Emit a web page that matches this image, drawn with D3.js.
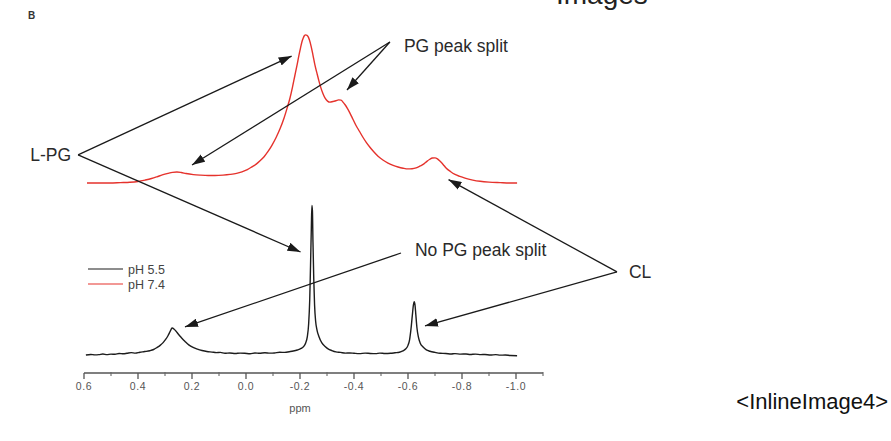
<!DOCTYPE html>
<html>
<head>
<meta charset="utf-8">
<script src="https://cdn.jsdelivr.net/npm/d3@7"></script>
<style>
  html, body { margin: 0; padding: 0; background: #fff; }
  svg { display: block; font-family: "Liberation Sans", Arial, sans-serif; }
</style>
</head>
<body>
<svg id="chart" width="891" height="441"></svg>
<script>
// 31P NMR spectra: chemical shift (ppm) and stacked intensity (arb. units)
const ph55Ppm = [0.593,0.575,0.560,0.545,0.530,0.515,0.500,0.485,0.470,0.455,0.441,0.425,0.410,0.393,0.375,0.356,0.342,0.330,0.318,0.307,0.297,0.289,0.280,0.274,0.266,0.259,0.251,0.244,0.235,0.226,0.212,0.196,0.180,0.163,0.145,0.126,0.110,0.095,0.078,0.060,0.040,0.022,0.005,-0.015,-0.033,-0.050,-0.070,-0.089,-0.105,-0.125,-0.144,-0.160,-0.175,-0.190,-0.204,-0.214,-0.221,-0.227,-0.232,-0.236,-0.239,-0.242,-0.244,-0.246,-0.248,-0.251,-0.254,-0.258,-0.263,-0.270,-0.281,-0.293,-0.304,-0.318,-0.333,-0.350,-0.368,-0.385,-0.400,-0.420,-0.441,-0.460,-0.480,-0.496,-0.515,-0.535,-0.552,-0.568,-0.581,-0.592,-0.600,-0.606,-0.611,-0.616,-0.620,-0.623,-0.626,-0.629,-0.633,-0.638,-0.645,-0.656,-0.668,-0.681,-0.700,-0.719,-0.740,-0.760,-0.774,-0.795,-0.815,-0.830,-0.850,-0.870,-0.885,-0.905,-0.925,-0.941,-0.960,-0.980,-1.004];
const ph55Int = [0,0.3,0.1,0.2,0.6,0.2,0.5,0.4,0.9,0.7,1.0,1.4,1.1,1.6,2.0,2.5,3.2,4.3,5.6,7.2,9.2,11.2,14.0,15.7,15.0,13.8,12.2,10.9,9.3,7.9,5.9,4.4,3.4,2.6,2.0,1.7,1.4,1.5,1.0,1.2,0.9,1.1,1.0,0.7,1.2,1.0,1.3,1.1,1.2,1.6,1.5,1.9,2.3,2.9,3.8,5.0,7.0,10.5,18.0,32.0,52.0,74.0,87.0,84.0,66.0,44.0,29.0,19.5,14.5,10.8,7.0,5.0,3.6,2.6,1.8,1.5,1.1,1.2,1.0,0.8,1.1,0.9,0.8,1.1,0.9,1.0,1.3,1.6,2.4,3.6,5.6,9.0,15.0,23.0,29.0,31.0,29.0,23.5,16.0,10.8,7.0,4.6,3.0,2.2,1.5,1.0,0.9,0.6,0.8,0.5,0.6,0.3,0.5,0.2,0.3,0.0,0.2,-0.1,0.0,-0.3,-0.4];

const ph74Ppm = [0.589,0.540,0.504,0.465,0.430,0.400,0.374,0.350,0.330,0.310,0.289,0.272,0.256,0.240,0.222,0.195,0.170,0.140,0.115,0.085,0.059,0.035,0.015,-0.005,-0.022,-0.038,-0.052,-0.067,-0.081,-0.096,-0.111,-0.126,-0.141,-0.152,-0.163,-0.172,-0.181,-0.189,-0.196,-0.202,-0.207,-0.212,-0.216,-0.221,-0.226,-0.231,-0.235,-0.241,-0.248,-0.255,-0.263,-0.270,-0.278,-0.286,-0.293,-0.302,-0.311,-0.322,-0.333,-0.343,-0.352,-0.360,-0.367,-0.376,-0.385,-0.396,-0.407,-0.420,-0.433,-0.446,-0.459,-0.474,-0.489,-0.507,-0.526,-0.545,-0.563,-0.582,-0.600,-0.615,-0.630,-0.645,-0.659,-0.670,-0.681,-0.690,-0.700,-0.709,-0.719,-0.730,-0.741,-0.757,-0.774,-0.792,-0.811,-0.840,-0.867,-0.900,-0.941,-0.975,-1.004];
const ph74Int = [100,100,100,100.2,100.4,100.9,101.7,102.6,103.6,104.7,105.6,106.2,106.4,106.1,105.5,104.9,104.6,104.4,104.4,104.6,105.0,105.6,106.5,107.8,109.4,111.0,112.9,115.3,118.2,121.9,126.3,131.5,137.8,143.4,149.4,155.6,162.5,168.5,174.2,178.6,182.0,184.3,185.6,186.1,185.9,184.8,183.1,179.6,174.4,168.8,163.7,159.4,155.0,151.6,149.3,147.6,147.0,147.4,147.8,148.3,148.2,146.9,145.5,143.2,140.6,137.1,133.6,130.1,126.6,123.5,120.8,118.0,115.6,113.4,111.6,110.2,109.3,108.6,108.2,108.3,108.8,109.9,111.1,112.6,113.8,114.5,114.6,114.0,112.6,110.8,108.7,106.7,105.0,103.8,102.8,101.7,101.0,100.5,100.2,100.0,100.0];

const seriesNames = ["pH 5.5", "pH 7.4"];
const seriesColors = ["#1c1c1c", "#e5322c"];

const majorTicks = [0.6,0.4,0.2,0.0,-0.2,-0.4,-0.6,-0.8,-1.0];
const minorTicks = [0.5,0.3,0.1,-0.1,-0.3,-0.5,-0.7,-0.9,-1.1];
const tickLabels = ["0.6","0.4","0.2","0.0","-0.2","-0.4","-0.6","-0.8","-1.0"];

// Annotations: label anchor and arrow tips, in (ppm, intensity) units
const annLabels = ["L-PG", "PG peak split", "No PG peak split", "CL"];
const annVertex = [[0.622,116.3],[-0.533,182.0],[-0.574,59.3],[-1.374,48.3]];
const annTips = [
  [[-0.169,173.8],[-0.202,59.9]],
  [[0.200,110.5],[-0.374,154.1]],
  [[0.226,16.3]],
  [[-0.750,102.0],[-0.663,16.9]]
];

const svg = d3.select("#chart");

const x = d3.scaleLinear().domain([0.6, -1.1]).range([84, 543]);
const y = d3.scaleLinear().domain([0, 200]).range([355, 11]);
const axisY = 373;

// panel letter
svg.append("text").attr("x", 28).attr("y", 19)
  .attr("font-size", 10).attr("font-weight", "bold").attr("fill", "#333").text("B");

// caption of the page above, cut by the top edge
svg.append("text").attr("x", 556).attr("y", 4)
  .attr("font-size", 28).attr("fill", "#222").text("Images");

// spectra
const line = d3.line().x(d => x(d[0])).y(d => y(d[1])).curve(d3.curveMonotoneX);
const spectra = [d3.zip(ph55Ppm, ph55Int), d3.zip(ph74Ppm, ph74Int)];
spectra.forEach((s, i) => {
  svg.append("path").datum(s)
    .attr("d", line)
    .attr("fill", "none")
    .attr("stroke", seriesColors[i])
    .attr("stroke-width", 1.4)
    .attr("stroke-linejoin", "round");
});

// x axis
const axisG = svg.append("g").attr("transform", `translate(0,${axisY})`);
axisG.append("line").attr("x1", x(0.6)).attr("x2", x(-1.1))
  .attr("stroke", "#555").attr("stroke-width", 1.5);
axisG.selectAll(".major").data(majorTicks).join("line")
  .attr("x1", d => x(d)).attr("x2", d => x(d))
  .attr("y1", 0).attr("y2", 6).attr("stroke", "#555").attr("stroke-width", 1.3);
axisG.selectAll(".minor").data(minorTicks).join("line")
  .attr("x1", d => x(d)).attr("x2", d => x(d))
  .attr("y1", -1).attr("y2", 3).attr("stroke", "#666").attr("stroke-width", 1.1);
axisG.selectAll(".lab").data(majorTicks).join("text")
  .attr("x", d => x(d)).attr("y", 17)
  .attr("text-anchor", "middle").attr("font-size", 10.5)
  .attr("letter-spacing", 0.6).attr("fill", "#555")
  .text((d, i) => tickLabels[i]);
svg.append("text").attr("x", (x(0.6) + x(-1.0)) / 2).attr("y", axisY + 39)
  .attr("text-anchor", "middle").attr("font-size", 11).attr("fill", "#555").text("ppm");

// legend
const leg = svg.append("g").attr("transform", "translate(88,269)");
seriesNames.forEach((n, i) => {
  leg.append("line").attr("x1", 0).attr("x2", 35).attr("y1", i * 15).attr("y2", i * 15)
    .attr("stroke", seriesColors[i]).attr("stroke-width", 1.2);
  leg.append("text").attr("x", 40).attr("y", i * 15 + 4.5)
    .attr("font-size", 12.5).attr("fill", "#444").text(n);
});

// arrows
const defs = svg.append("defs");
defs.append("marker").attr("id", "head")
  .attr("viewBox", "0 0 12 8").attr("refX", 12).attr("refY", 4)
  .attr("markerUnits", "userSpaceOnUse")
  .attr("markerWidth", 13).attr("markerHeight", 9)
  .attr("orient", "auto")
  .append("path").attr("d", "M0,0 L12,4 L0,8 Z").attr("fill", "#1a1a1a");

annVertex.forEach((v, i) => {
  annTips[i].forEach(t => {
    svg.append("line")
      .attr("x1", x(v[0])).attr("y1", y(v[1]))
      .attr("x2", x(t[0])).attr("y2", y(t[1]))
      .attr("stroke", "#1a1a1a").attr("stroke-width", 1.3)
      .attr("marker-end", "url(#head)");
  });
});

// annotation labels
const labelOffset = [[-7, "end"], [14, "start"], [14, "start"], [12, "start"]];
const labelDy = [0, 4, -3, 0];
annLabels.forEach((t, i) => {
  svg.append("text")
    .attr("x", x(annVertex[i][0]) + labelOffset[i][0])
    .attr("y", y(annVertex[i][1]) + labelDy[i])
    .attr("dy", "0.35em")
    .attr("text-anchor", labelOffset[i][1])
    .attr("font-size", 17.5).attr("fill", "#2a2a2a").text(t);
});

// figure tag
svg.append("text").attr("x", 888).attr("y", 409)
  .attr("text-anchor", "end").attr("font-size", 22).attr("fill", "#111")
  .text("<InlineImage4>");
</script>
</body>
</html>
